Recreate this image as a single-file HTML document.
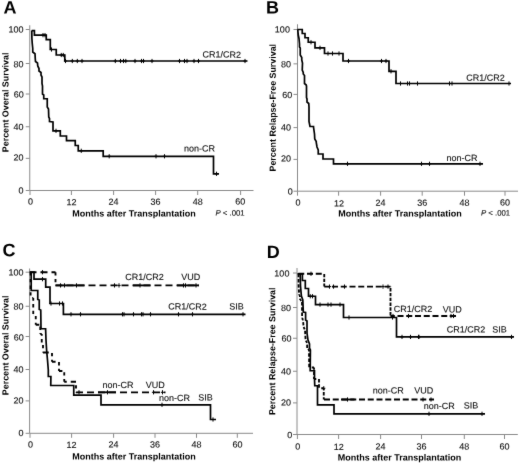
<!DOCTYPE html>
<html><head><meta charset="utf-8"><style>
html,body{margin:0;padding:0;background:#fff;}
svg{display:block;will-change:transform;}
text{font-family:"Liberation Sans",sans-serif;}
.tk{font-size:9px;fill:#111;stroke:#111;stroke-width:0.12px;}
.lb{font-size:9px;fill:#111;stroke:#111;stroke-width:0.12px;}
.tt{font-size:9px;font-weight:bold;fill:#000;}
.pv{font-size:7.8px;stroke-width:0.1px;}
.yt{font-size:8.87px;}
.pl{font-size:18px;font-weight:bold;fill:#000;}
</style></head><body>
<svg width="520" height="463" viewBox="0 0 520 463">
<defs><filter id="b" x="0" y="0" width="1" height="1" color-interpolation-filters="sRGB"><feConvolveMatrix order="3" kernelMatrix="0.01 0.06 0.01 0.06 0.72 0.06 0.01 0.06 0.01" edgeMode="duplicate"/></filter></defs>
<g filter="url(#b)">
<rect width="520" height="463" fill="#fff"/>
<line x1="29.75" y1="25.25" x2="29.75" y2="190.5" stroke="#8a8a8a" stroke-width="1"/>
<line x1="29.75" y1="190.5" x2="253.5" y2="190.5" stroke="#8a8a8a" stroke-width="1"/>
<line x1="25.75" y1="29.5" x2="29.75" y2="29.5" stroke="#8a8a8a" stroke-width="1"/>
<line x1="25.75" y1="63.5" x2="29.75" y2="63.5" stroke="#8a8a8a" stroke-width="1"/>
<line x1="25.75" y1="94" x2="29.75" y2="94" stroke="#8a8a8a" stroke-width="1"/>
<line x1="25.75" y1="126.75" x2="29.75" y2="126.75" stroke="#8a8a8a" stroke-width="1"/>
<line x1="25.75" y1="158.35" x2="29.75" y2="158.35" stroke="#8a8a8a" stroke-width="1"/>
<line x1="25.75" y1="190.5" x2="29.75" y2="190.5" stroke="#8a8a8a" stroke-width="1"/>
<line x1="30" y1="190.5" x2="30" y2="195.0" stroke="#8a8a8a" stroke-width="1"/>
<line x1="71.4" y1="190.5" x2="71.4" y2="195.0" stroke="#8a8a8a" stroke-width="1"/>
<line x1="113.6" y1="190.5" x2="113.6" y2="195.0" stroke="#8a8a8a" stroke-width="1"/>
<line x1="155.6" y1="190.5" x2="155.6" y2="195.0" stroke="#8a8a8a" stroke-width="1"/>
<line x1="197.7" y1="190.5" x2="197.7" y2="195.0" stroke="#8a8a8a" stroke-width="1"/>
<line x1="240.6" y1="190.5" x2="240.6" y2="195.0" stroke="#8a8a8a" stroke-width="1"/>
<text transform="translate(23.5,32.6) matrix(1,0.001,0,1,0,0)" text-anchor="end" class="tk">100</text>
<text transform="translate(23.4,67.3) matrix(1,0.001,0,1,0,0)" text-anchor="end" class="tk">80</text>
<text transform="translate(23.7,97.6) matrix(1,0.001,0,1,0,0)" text-anchor="end" class="tk">60</text>
<text transform="translate(23.4,129.9) matrix(1,0.001,0,1,0,0)" text-anchor="end" class="tk">40</text>
<text transform="translate(23.4,160.6) matrix(1,0.001,0,1,0,0)" text-anchor="end" class="tk">20</text>
<text transform="translate(23.5,193.4) matrix(1,0.001,0,1,0,0)" text-anchor="end" class="tk">0</text>
<text transform="translate(30.6,204.6) matrix(1,0.001,0,1,0,0)" text-anchor="middle" class="tk">0</text>
<text transform="translate(71.5,205.2) matrix(1,0.001,0,1,0,0)" text-anchor="middle" class="tk">12</text>
<text transform="translate(113.6,204.8) matrix(1,0.001,0,1,0,0)" text-anchor="middle" class="tk">24</text>
<text transform="translate(155.6,204.8) matrix(1,0.001,0,1,0,0)" text-anchor="middle" class="tk">36</text>
<text transform="translate(197.7,204.8) matrix(1,0.001,0,1,0,0)" text-anchor="middle" class="tk">48</text>
<text transform="translate(240.3,204.4) matrix(1,0.001,0,1,0,0)" text-anchor="middle" class="tk">60</text>
<path d="M31.75,30.6 L34.4,30.6 L34.4,35.15 L46.25,35.15 L46.25,39.6 L50.3,39.6 L50.3,49.5 L56.25,49.5 L56.25,55 L64.8,55 L64.8,61 L247.5,61" fill="none" stroke="#000" stroke-width="1.7" stroke-linejoin="miter" stroke-miterlimit="2"/>
<path d="M43,33.05V37.25M41.4,35.15H44.6" stroke="#000" stroke-width="1.0" fill="none"/>
<path d="M45,33.05V37.25M43.4,35.15H46.6" stroke="#000" stroke-width="1.0" fill="none"/>
<path d="M51.5,47.4V51.6M49.9,49.5H53.1" stroke="#000" stroke-width="1.0" fill="none"/>
<path d="M61.25,52.9V57.1M59.65,55H62.85" stroke="#000" stroke-width="1.0" fill="none"/>
<path d="M63.25,52.9V57.1M61.65,55H64.85" stroke="#000" stroke-width="1.0" fill="none"/>
<path d="M65.5,58.9V63.1M63.9,61H67.1" stroke="#000" stroke-width="1.0" fill="none"/>
<path d="M72.3,58.9V63.1M70.7,61H73.89999999999999" stroke="#000" stroke-width="1.0" fill="none"/>
<path d="M77.3,58.9V63.1M75.7,61H78.89999999999999" stroke="#000" stroke-width="1.0" fill="none"/>
<path d="M82,58.9V63.1M80.4,61H83.6" stroke="#000" stroke-width="1.0" fill="none"/>
<path d="M115.3,58.9V63.1M113.7,61H116.89999999999999" stroke="#000" stroke-width="1.0" fill="none"/>
<path d="M120.5,58.9V63.1M118.9,61H122.1" stroke="#000" stroke-width="1.0" fill="none"/>
<path d="M123.5,58.9V63.1M121.9,61H125.1" stroke="#000" stroke-width="1.0" fill="none"/>
<path d="M125.8,58.9V63.1M124.2,61H127.39999999999999" stroke="#000" stroke-width="1.0" fill="none"/>
<path d="M135,58.9V63.1M133.4,61H136.6" stroke="#000" stroke-width="1.0" fill="none"/>
<path d="M141.5,58.9V63.1M139.9,61H143.1" stroke="#000" stroke-width="1.0" fill="none"/>
<path d="M143.5,58.9V63.1M141.9,61H145.1" stroke="#000" stroke-width="1.0" fill="none"/>
<path d="M152,58.9V63.1M150.4,61H153.6" stroke="#000" stroke-width="1.0" fill="none"/>
<path d="M179.5,58.9V63.1M177.9,61H181.1" stroke="#000" stroke-width="1.0" fill="none"/>
<path d="M184.5,58.9V63.1M182.9,61H186.1" stroke="#000" stroke-width="1.0" fill="none"/>
<path d="M187,58.9V63.1M185.4,61H188.6" stroke="#000" stroke-width="1.0" fill="none"/>
<path d="M194,58.9V63.1M192.4,61H195.6" stroke="#000" stroke-width="1.0" fill="none"/>
<path d="M198.5,58.9V63.1M196.9,61H200.1" stroke="#000" stroke-width="1.0" fill="none"/>
<path d="M245,58.9V63.1M243.4,61H246.6" stroke="#000" stroke-width="1.0" fill="none"/>
<path d="M31.75,30.6 L31.9,38.5 L32.25,43.5 L32.75,48.5 L32.75,52 L35,53.75 L35.25,58.5 L35.5,61.5 L37.5,63 L37.75,66 L39,68.5 L39,71 L41,72.5 L41,75 L42,77 L42,83.5 L42.5,86 L42.5,94 L43.75,95 L43.75,98.75 L47.25,98.75 L47.25,107 L48.5,109 L48.75,117 L49.5,118.5 L49.5,121.5 L53,122 L53,130.8 L60.3,130.8 L60.3,136 L66.5,136 L66.5,140.6 L75.25,140.6 L75.25,145.5 L78.25,145.5 L78.25,150.8 L103.2,150.8 L103.2,156.3 L213.5,156.3 L213.5,173.8 L219,173.8" fill="none" stroke="#000" stroke-width="1.7" stroke-linejoin="miter" stroke-miterlimit="2"/>
<path d="M56,128.70000000000002V132.9M54.4,130.8H57.6" stroke="#000" stroke-width="1.0" fill="none"/>
<path d="M81.25,148.70000000000002V152.9M79.65,150.8H82.85" stroke="#000" stroke-width="1.0" fill="none"/>
<path d="M109.2,154.20000000000002V158.4M107.60000000000001,156.3H110.8" stroke="#000" stroke-width="1.0" fill="none"/>
<path d="M156,154.20000000000002V158.4M154.4,156.3H157.6" stroke="#000" stroke-width="1.0" fill="none"/>
<path d="M164.5,154.20000000000002V158.4M162.9,156.3H166.1" stroke="#000" stroke-width="1.0" fill="none"/>
<path d="M216.5,171.70000000000002V175.9M214.9,173.8H218.1" stroke="#000" stroke-width="1.0" fill="none"/>
<text transform="translate(3.6,13.6) matrix(1,0.001,0,1,0,0)" class="pl">A</text>
<text transform="translate(72.3,216.5) matrix(1,0.001,0,1,0,0)" class="tt">Months after Transplantation</text>
<text transform="translate(215.4,215.6) matrix(1,0.001,0,1,0,0)" class="tk pv"><tspan font-style="italic">P</tspan> &lt; .001</text>
<text transform="translate(202.5,57.6) matrix(1,0.001,0,1,0,0)" class="lb">CR1/CR2</text>
<text transform="translate(184,151.4) matrix(1,0.001,0,1,0,0)" class="lb">non-CR</text>
<text transform="translate(8.5,102.4) rotate(-90) matrix(1,0.001,0,1,0,0)" text-anchor="middle" class="tt yt">Percent Overal Survival</text>
<line x1="297.5" y1="24.25" x2="297.5" y2="191.2" stroke="#8a8a8a" stroke-width="1"/>
<line x1="297.5" y1="191.2" x2="518" y2="191.2" stroke="#8a8a8a" stroke-width="1"/>
<line x1="293.5" y1="29.5" x2="297.5" y2="29.5" stroke="#8a8a8a" stroke-width="1"/>
<line x1="293.5" y1="63.85" x2="297.5" y2="63.85" stroke="#8a8a8a" stroke-width="1"/>
<line x1="293.5" y1="94.4" x2="297.5" y2="94.4" stroke="#8a8a8a" stroke-width="1"/>
<line x1="293.5" y1="127.6" x2="297.5" y2="127.6" stroke="#8a8a8a" stroke-width="1"/>
<line x1="293.5" y1="159.4" x2="297.5" y2="159.4" stroke="#8a8a8a" stroke-width="1"/>
<line x1="293.5" y1="191.2" x2="297.5" y2="191.2" stroke="#8a8a8a" stroke-width="1"/>
<line x1="297.5" y1="191.2" x2="297.5" y2="195.7" stroke="#8a8a8a" stroke-width="1"/>
<line x1="338.6" y1="191.2" x2="338.6" y2="195.7" stroke="#8a8a8a" stroke-width="1"/>
<line x1="380.6" y1="191.2" x2="380.6" y2="195.7" stroke="#8a8a8a" stroke-width="1"/>
<line x1="422.2" y1="191.2" x2="422.2" y2="195.7" stroke="#8a8a8a" stroke-width="1"/>
<line x1="464.5" y1="191.2" x2="464.5" y2="195.7" stroke="#8a8a8a" stroke-width="1"/>
<line x1="505" y1="191.2" x2="505" y2="195.7" stroke="#8a8a8a" stroke-width="1"/>
<text transform="translate(289.9,32.4) matrix(1,0.001,0,1,0,0)" text-anchor="end" class="tk">100</text>
<text transform="translate(291.1,67.3) matrix(1,0.001,0,1,0,0)" text-anchor="end" class="tk">80</text>
<text transform="translate(292.3,98.1) matrix(1,0.001,0,1,0,0)" text-anchor="end" class="tk">60</text>
<text transform="translate(291.1,130.6) matrix(1,0.001,0,1,0,0)" text-anchor="end" class="tk">40</text>
<text transform="translate(291.1,161.6) matrix(1,0.001,0,1,0,0)" text-anchor="end" class="tk">20</text>
<text transform="translate(292.8,194.4) matrix(1,0.001,0,1,0,0)" text-anchor="end" class="tk">0</text>
<text transform="translate(298.1,205.4) matrix(1,0.001,0,1,0,0)" text-anchor="middle" class="tk">0</text>
<text transform="translate(339,206.4) matrix(1,0.001,0,1,0,0)" text-anchor="middle" class="tk">12</text>
<text transform="translate(380.6,205.8) matrix(1,0.001,0,1,0,0)" text-anchor="middle" class="tk">24</text>
<text transform="translate(422.2,205.8) matrix(1,0.001,0,1,0,0)" text-anchor="middle" class="tk">36</text>
<text transform="translate(464.5,205.8) matrix(1,0.001,0,1,0,0)" text-anchor="middle" class="tk">48</text>
<text transform="translate(505,205.4) matrix(1,0.001,0,1,0,0)" text-anchor="middle" class="tk">60</text>
<path d="M297.5,29.5 L302.25,29.5 L302.25,33.5 L305,33.5 L305,37.75 L308.25,37.75 L308.25,42.25 L315,42.25 L315,47.8 L324.5,47.8 L324.5,53.5 L343,53.5 L343,61 L389,61 L389,71.3 L396,71.3 L396,83.5 L511,83.5" fill="none" stroke="#000" stroke-width="1.7" stroke-linejoin="miter" stroke-miterlimit="2"/>
<path d="M311,40.15V44.35M309.4,42.25H312.6" stroke="#000" stroke-width="1.0" fill="none"/>
<path d="M320,45.699999999999996V49.9M318.4,47.8H321.6" stroke="#000" stroke-width="1.0" fill="none"/>
<path d="M328,51.4V55.6M326.4,53.5H329.6" stroke="#000" stroke-width="1.0" fill="none"/>
<path d="M332.5,51.4V55.6M330.9,53.5H334.1" stroke="#000" stroke-width="1.0" fill="none"/>
<path d="M339,51.4V55.6M337.4,53.5H340.6" stroke="#000" stroke-width="1.0" fill="none"/>
<path d="M348.5,58.9V63.1M346.9,61H350.1" stroke="#000" stroke-width="1.0" fill="none"/>
<path d="M381.5,58.9V63.1M379.9,61H383.1" stroke="#000" stroke-width="1.0" fill="none"/>
<path d="M386,58.9V63.1M384.4,61H387.6" stroke="#000" stroke-width="1.0" fill="none"/>
<path d="M391,69.2V73.39999999999999M389.4,71.3H392.6" stroke="#000" stroke-width="1.0" fill="none"/>
<path d="M400.5,81.4V85.6M398.9,83.5H402.1" stroke="#000" stroke-width="1.0" fill="none"/>
<path d="M407.5,81.4V85.6M405.9,83.5H409.1" stroke="#000" stroke-width="1.0" fill="none"/>
<path d="M409.5,81.4V85.6M407.9,83.5H411.1" stroke="#000" stroke-width="1.0" fill="none"/>
<path d="M417.5,81.4V85.6M415.9,83.5H419.1" stroke="#000" stroke-width="1.0" fill="none"/>
<path d="M449.5,81.4V85.6M447.9,83.5H451.1" stroke="#000" stroke-width="1.0" fill="none"/>
<path d="M452,81.4V85.6M450.4,83.5H453.6" stroke="#000" stroke-width="1.0" fill="none"/>
<path d="M509,81.4V85.6M507.4,83.5H510.6" stroke="#000" stroke-width="1.0" fill="none"/>
<path d="M297.75,29.5 L298.25,35 L299,38.5 L299.5,44 L299.5,47 L300.25,48 L300.25,55 L301.75,57.5 L301.75,60 L302.5,63 L302.25,70 L303.25,72.5 L303.25,74 L304.5,75.5 L304.5,83.5 L306.25,85 L306.5,86 L306.5,97.5 L307,99 L307,102 L308.75,103.5 L309,107 L309,121.5 L310,126.5 L313.5,126.5 L313.5,127 L314.5,134 L314.75,139 L316.25,141.5 L316.25,142.5 L317,147 L318.25,150 L318.25,154 L323,154 L323,159 L333.5,159 L333.5,163.8 L483,163.8" fill="none" stroke="#000" stroke-width="1.7" stroke-linejoin="miter" stroke-miterlimit="2"/>
<path d="M347.5,161.70000000000002V165.9M345.9,163.8H349.1" stroke="#000" stroke-width="1.0" fill="none"/>
<path d="M421.5,161.70000000000002V165.9M419.9,163.8H423.1" stroke="#000" stroke-width="1.0" fill="none"/>
<path d="M429.5,161.70000000000002V165.9M427.9,163.8H431.1" stroke="#000" stroke-width="1.0" fill="none"/>
<path d="M480,161.70000000000002V165.9M478.4,163.8H481.6" stroke="#000" stroke-width="1.0" fill="none"/>
<text transform="translate(266,13.6) matrix(1,0.001,0,1,0,0)" class="pl">B</text>
<text transform="translate(338.3,216.5) matrix(1,0.001,0,1,0,0)" class="tt">Months after Transplantation</text>
<text transform="translate(480.9,215.6) matrix(1,0.001,0,1,0,0)" class="tk pv"><tspan font-style="italic">P</tspan> &lt; .001</text>
<text transform="translate(466.2,80.7) matrix(1,0.001,0,1,0,0)" class="lb">CR1/CR2</text>
<text transform="translate(446.6,161) matrix(1,0.001,0,1,0,0)" class="lb">non-CR</text>
<text transform="translate(275.7,107.75) rotate(-90) matrix(1,0.001,0,1,0,0)" text-anchor="middle" class="tt yt">Percent Relapse-Free Survival</text>
<line x1="29.6" y1="268.5" x2="29.6" y2="433.3" stroke="#8a8a8a" stroke-width="1"/>
<line x1="29.6" y1="433.3" x2="253" y2="433.3" stroke="#8a8a8a" stroke-width="1"/>
<line x1="25.6" y1="272.2" x2="29.6" y2="272.2" stroke="#8a8a8a" stroke-width="1"/>
<line x1="25.6" y1="306.25" x2="29.6" y2="306.25" stroke="#8a8a8a" stroke-width="1"/>
<line x1="25.6" y1="336.5" x2="29.6" y2="336.5" stroke="#8a8a8a" stroke-width="1"/>
<line x1="25.6" y1="369.5" x2="29.6" y2="369.5" stroke="#8a8a8a" stroke-width="1"/>
<line x1="25.6" y1="400.9" x2="29.6" y2="400.9" stroke="#8a8a8a" stroke-width="1"/>
<line x1="25.6" y1="433.3" x2="29.6" y2="433.3" stroke="#8a8a8a" stroke-width="1"/>
<line x1="30" y1="433.3" x2="30" y2="437.8" stroke="#8a8a8a" stroke-width="1"/>
<line x1="71.6" y1="433.3" x2="71.6" y2="437.8" stroke="#8a8a8a" stroke-width="1"/>
<line x1="113.6" y1="433.3" x2="113.6" y2="437.8" stroke="#8a8a8a" stroke-width="1"/>
<line x1="155" y1="433.3" x2="155" y2="437.8" stroke="#8a8a8a" stroke-width="1"/>
<line x1="196.5" y1="433.3" x2="196.5" y2="437.8" stroke="#8a8a8a" stroke-width="1"/>
<line x1="237.3" y1="433.3" x2="237.3" y2="437.8" stroke="#8a8a8a" stroke-width="1"/>
<text transform="translate(23.5,275.4) matrix(1,0.001,0,1,0,0)" text-anchor="end" class="tk">100</text>
<text transform="translate(23.4,309.6) matrix(1,0.001,0,1,0,0)" text-anchor="end" class="tk">80</text>
<text transform="translate(23.7,340.6) matrix(1,0.001,0,1,0,0)" text-anchor="end" class="tk">60</text>
<text transform="translate(23.4,372.6) matrix(1,0.001,0,1,0,0)" text-anchor="end" class="tk">40</text>
<text transform="translate(23.4,403.6) matrix(1,0.001,0,1,0,0)" text-anchor="end" class="tk">20</text>
<text transform="translate(23.5,435.9) matrix(1,0.001,0,1,0,0)" text-anchor="end" class="tk">0</text>
<text transform="translate(30.6,447.4) matrix(1,0.001,0,1,0,0)" text-anchor="middle" class="tk">0</text>
<text transform="translate(71.5,447.9) matrix(1,0.001,0,1,0,0)" text-anchor="middle" class="tk">12</text>
<text transform="translate(113.6,447.6) matrix(1,0.001,0,1,0,0)" text-anchor="middle" class="tk">24</text>
<text transform="translate(155,447.6) matrix(1,0.001,0,1,0,0)" text-anchor="middle" class="tk">36</text>
<text transform="translate(196.5,447.6) matrix(1,0.001,0,1,0,0)" text-anchor="middle" class="tk">48</text>
<text transform="translate(237.4,447.4) matrix(1,0.001,0,1,0,0)" text-anchor="middle" class="tk">60</text>
<path d="M29.75,272.20L36.50,272.20M40.50,272.20L47.50,272.20M51.50,272.20L55.50,272.20M55.50,272.30L55.50,275.60M55.50,279.00L55.50,282.30M55.50,285.40L62.50,285.40M66.50,285.40L73.50,285.40M77.50,285.40L84.50,285.40M88.50,285.40L95.50,285.40M99.50,285.40L106.50,285.40M110.50,285.40L117.50,285.40M121.50,285.40L128.50,285.40M132.50,285.40L139.50,285.40M143.50,285.40L150.50,285.40M154.50,285.40L161.50,285.40M165.50,285.40L172.50,285.40M176.50,285.40L183.50,285.40M187.50,285.40L194.50,285.40M198.50,285.40L199.00,285.40" fill="none" stroke="#000" stroke-width="1.85" stroke-linecap="butt"/>
<path d="M55.5,285.4H84.5" stroke="#000" stroke-width="1.85" fill="none"/><path d="M133,285.4H150.5" stroke="#000" stroke-width="1.85" fill="none"/><path d="M177,285.4H199" stroke="#000" stroke-width="1.85" fill="none"/>
<path d="M42.5,270.09999999999997V274.3M40.9,272.2H44.1" stroke="#000" stroke-width="1.0" fill="none"/>
<path d="M60.5,283.29999999999995V287.5M58.9,285.4H62.1" stroke="#000" stroke-width="1.0" fill="none"/>
<path d="M64.5,283.29999999999995V287.5M62.9,285.4H66.1" stroke="#000" stroke-width="1.0" fill="none"/>
<path d="M76.5,283.29999999999995V287.5M74.9,285.4H78.1" stroke="#000" stroke-width="1.0" fill="none"/>
<path d="M114.5,283.29999999999995V287.5M112.9,285.4H116.1" stroke="#000" stroke-width="1.0" fill="none"/>
<path d="M119,283.29999999999995V287.5M117.4,285.4H120.6" stroke="#000" stroke-width="1.0" fill="none"/>
<path d="M140,283.29999999999995V287.5M138.4,285.4H141.6" stroke="#000" stroke-width="1.0" fill="none"/>
<path d="M183.5,283.29999999999995V287.5M181.9,285.4H185.1" stroke="#000" stroke-width="1.0" fill="none"/>
<path d="M185.5,283.29999999999995V287.5M183.9,285.4H187.1" stroke="#000" stroke-width="1.0" fill="none"/>
<path d="M196,283.29999999999995V287.5M194.4,285.4H197.6" stroke="#000" stroke-width="1.0" fill="none"/>
<path d="M29.75,272.2 L34,272.2 L34,279.2 L45.7,279.2 L45.7,287.2 L50,287.2 L50,303.5 L63.4,303.5 L63.4,314.3 L245.5,314.3" fill="none" stroke="#000" stroke-width="1.7" stroke-linejoin="miter" stroke-miterlimit="2"/>
<path d="M42.5,277.09999999999997V281.3M40.9,279.2H44.1" stroke="#000" stroke-width="1.0" fill="none"/>
<path d="M51,301.4V305.6M49.4,303.5H52.6" stroke="#000" stroke-width="1.0" fill="none"/>
<path d="M59.5,301.4V305.6M57.9,303.5H61.1" stroke="#000" stroke-width="1.0" fill="none"/>
<path d="M62.5,301.4V305.6M60.9,303.5H64.1" stroke="#000" stroke-width="1.0" fill="none"/>
<path d="M71,312.2V316.40000000000003M69.4,314.3H72.6" stroke="#000" stroke-width="1.0" fill="none"/>
<path d="M80.5,312.2V316.40000000000003M78.9,314.3H82.1" stroke="#000" stroke-width="1.0" fill="none"/>
<path d="M122.5,312.2V316.40000000000003M120.9,314.3H124.1" stroke="#000" stroke-width="1.0" fill="none"/>
<path d="M124,312.2V316.40000000000003M122.4,314.3H125.6" stroke="#000" stroke-width="1.0" fill="none"/>
<path d="M133.5,312.2V316.40000000000003M131.9,314.3H135.1" stroke="#000" stroke-width="1.0" fill="none"/>
<path d="M141.5,312.2V316.40000000000003M139.9,314.3H143.1" stroke="#000" stroke-width="1.0" fill="none"/>
<path d="M143,312.2V316.40000000000003M141.4,314.3H144.6" stroke="#000" stroke-width="1.0" fill="none"/>
<path d="M150.5,312.2V316.40000000000003M148.9,314.3H152.1" stroke="#000" stroke-width="1.0" fill="none"/>
<path d="M178.5,312.2V316.40000000000003M176.9,314.3H180.1" stroke="#000" stroke-width="1.0" fill="none"/>
<path d="M192.5,312.2V316.40000000000003M190.9,314.3H194.1" stroke="#000" stroke-width="1.0" fill="none"/>
<path d="M243,312.2V316.40000000000003M241.4,314.3H244.6" stroke="#000" stroke-width="1.0" fill="none"/>
<path d="M30.60,272.20L30.60,275.50M30.60,278.90L30.60,282.20M30.60,285.60L30.60,288.90M30.60,292.30L30.60,295.60M32.24,298.00L33.25,298.00M33.25,298.00L33.25,300.69M33.25,304.09L33.25,307.39M33.25,310.79L33.25,314.09M33.25,315.00L33.33,315.00M35.75,315.96L35.75,319.26M35.75,322.66L35.75,324.75M35.75,324.75L39.32,324.75M40.25,326.62L40.25,329.92M40.25,333.32L40.25,334.00M40.25,334.00L41.75,334.00M41.75,334.00L41.75,335.71M41.75,339.11L41.75,342.41M43.00,345.05L43.00,348.35M43.00,351.75L43.00,352.50M43.00,352.50L48.76,352.50M52.00,352.97L52.00,356.27M52.00,359.67L52.00,361.75M52.00,361.75L55.58,361.75M59.00,362.10L59.00,365.40M59.00,368.80L59.00,371.00M59.00,371.00L62.39,371.00M64.25,372.30L64.25,375.60M64.25,379.00L64.25,381.75M64.25,381.75L66.74,381.75M70.74,381.75L76.00,381.75M76.00,381.75L76.00,381.85M76.00,385.25L76.00,388.55M76.00,391.95L76.00,392.30M76.00,392.30L83.00,392.30M87.00,392.30L94.00,392.30M98.00,392.30L105.00,392.30M109.00,392.30L116.00,392.30M120.00,392.30L127.00,392.30M131.00,392.30L138.00,392.30M142.00,392.30L149.00,392.30M153.00,392.30L160.00,392.30M164.00,392.30L165.50,392.30" fill="none" stroke="#000" stroke-width="1.85" stroke-linecap="butt"/>
<path d="M98,392.3H116" stroke="#000" stroke-width="1.85" fill="none"/>
<path d="M79,390.2V394.40000000000003M77.4,392.3H80.6" stroke="#000" stroke-width="1.0" fill="none"/>
<path d="M107.5,390.2V394.40000000000003M105.9,392.3H109.1" stroke="#000" stroke-width="1.0" fill="none"/>
<path d="M153.5,390.2V394.40000000000003M151.9,392.3H155.1" stroke="#000" stroke-width="1.0" fill="none"/>
<path d="M162.5,390.2V394.40000000000003M160.9,392.3H164.1" stroke="#000" stroke-width="1.0" fill="none"/>
<path d="M31.2,272.2 L31.2,290.5 L37.75,290.5 L37.75,299.5 L39.25,300 L39.25,309.5 L40.75,310 L41,328.75 L45.6,328.75 L46,340 L46.6,350 L47.5,360 L48.3,370 L48.3,376.5 L50.9,376.5 L50.75,385.5 L73.75,385.5 L73.75,395.2 L101,395.2 L101,404.8 L210.5,404.8 L210.5,419.5 L216,419.5" fill="none" stroke="#000" stroke-width="1.7" stroke-linejoin="miter" stroke-miterlimit="2"/>
<path d="M162,402.7V406.90000000000003M160.4,404.8H163.6" stroke="#000" stroke-width="1.0" fill="none"/>
<path d="M213,417.4V421.6M211.4,419.5H214.6" stroke="#000" stroke-width="1.0" fill="none"/>
<text transform="translate(2.6,256.2) matrix(1,0.001,0,1,0,0)" class="pl">C</text>
<text transform="translate(72.3,459.5) matrix(1,0.001,0,1,0,0)" class="tt">Months after Transplantation</text>
<text transform="translate(125.2,280) matrix(1,0.001,0,1,0,0)" class="lb">CR1/CR2</text>
<text transform="translate(181.3,280) matrix(1,0.001,0,1,0,0)" class="lb">VUD</text>
<text transform="translate(168.2,309.6) matrix(1,0.001,0,1,0,0)" class="lb">CR1/CR2</text>
<text transform="translate(229.2,309.6) matrix(1,0.001,0,1,0,0)" class="lb">SIB</text>
<text transform="translate(102.6,388) matrix(1,0.001,0,1,0,0)" class="lb">non-CR</text>
<text transform="translate(145.8,388) matrix(1,0.001,0,1,0,0)" class="lb">VUD</text>
<text transform="translate(159.1,401) matrix(1,0.001,0,1,0,0)" class="lb">non-CR</text>
<text transform="translate(198.2,400.6) matrix(1,0.001,0,1,0,0)" class="lb">SIB</text>
<text transform="translate(8.5,345.4) rotate(-90) matrix(1,0.001,0,1,0,0)" text-anchor="middle" class="tt yt">Percent Overal Survival</text>
<line x1="297" y1="268" x2="297" y2="434.5" stroke="#8a8a8a" stroke-width="1"/>
<line x1="297" y1="434.5" x2="517.8" y2="434.5" stroke="#8a8a8a" stroke-width="1"/>
<line x1="293" y1="273" x2="297" y2="273" stroke="#8a8a8a" stroke-width="1"/>
<line x1="293" y1="307.5" x2="297" y2="307.5" stroke="#8a8a8a" stroke-width="1"/>
<line x1="293" y1="338.25" x2="297" y2="338.25" stroke="#8a8a8a" stroke-width="1"/>
<line x1="293" y1="371.25" x2="297" y2="371.25" stroke="#8a8a8a" stroke-width="1"/>
<line x1="293" y1="402.9" x2="297" y2="402.9" stroke="#8a8a8a" stroke-width="1"/>
<line x1="293" y1="434.5" x2="297" y2="434.5" stroke="#8a8a8a" stroke-width="1"/>
<line x1="297.4" y1="434.5" x2="297.4" y2="439.0" stroke="#8a8a8a" stroke-width="1"/>
<line x1="338.6" y1="434.5" x2="338.6" y2="439.0" stroke="#8a8a8a" stroke-width="1"/>
<line x1="380.6" y1="434.5" x2="380.6" y2="439.0" stroke="#8a8a8a" stroke-width="1"/>
<line x1="421.5" y1="434.5" x2="421.5" y2="439.0" stroke="#8a8a8a" stroke-width="1"/>
<line x1="464.3" y1="434.5" x2="464.3" y2="439.0" stroke="#8a8a8a" stroke-width="1"/>
<line x1="504.5" y1="434.5" x2="504.5" y2="439.0" stroke="#8a8a8a" stroke-width="1"/>
<text transform="translate(289.4,276.4) matrix(1,0.001,0,1,0,0)" text-anchor="end" class="tk">100</text>
<text transform="translate(291.1,310.9) matrix(1,0.001,0,1,0,0)" text-anchor="end" class="tk">80</text>
<text transform="translate(291.5,341.6) matrix(1,0.001,0,1,0,0)" text-anchor="end" class="tk">60</text>
<text transform="translate(291.1,374.6) matrix(1,0.001,0,1,0,0)" text-anchor="end" class="tk">40</text>
<text transform="translate(291.1,405.6) matrix(1,0.001,0,1,0,0)" text-anchor="end" class="tk">20</text>
<text transform="translate(292.3,437.9) matrix(1,0.001,0,1,0,0)" text-anchor="end" class="tk">0</text>
<text transform="translate(297.8,449.4) matrix(1,0.001,0,1,0,0)" text-anchor="middle" class="tk">0</text>
<text transform="translate(338.8,449.9) matrix(1,0.001,0,1,0,0)" text-anchor="middle" class="tk">12</text>
<text transform="translate(380.6,449.6) matrix(1,0.001,0,1,0,0)" text-anchor="middle" class="tk">24</text>
<text transform="translate(421.5,449.6) matrix(1,0.001,0,1,0,0)" text-anchor="middle" class="tk">36</text>
<text transform="translate(464.3,449.6) matrix(1,0.001,0,1,0,0)" text-anchor="middle" class="tk">48</text>
<text transform="translate(504.5,449.4) matrix(1,0.001,0,1,0,0)" text-anchor="middle" class="tk">60</text>
<path d="M298.25,273.75L304.25,273.75M307.00,273.75L313.00,273.75M315.75,273.75L321.75,273.75M324.25,273.89L324.25,277.29M324.25,278.69L324.25,282.09M324.25,283.49L324.25,286.60M324.25,286.60L329.25,286.60M332.00,286.60L338.00,286.60M340.75,286.60L346.75,286.60M349.50,286.60L355.50,286.60M358.25,286.60L364.25,286.60M367.00,286.60L373.00,286.60M375.75,286.60L381.75,286.60M384.50,286.60L390.50,286.60M390.50,286.60L390.50,286.71M390.50,288.11L390.50,291.51M390.50,292.91L390.50,296.31M390.50,297.71L390.50,301.11M390.50,302.51L390.50,305.91M390.50,307.31L390.50,310.71M390.50,312.11L390.50,315.51M390.50,316.00L394.75,316.00M397.50,316.00L403.50,316.00M406.25,316.00L412.25,316.00M415.00,316.00L421.00,316.00M423.75,316.00L429.75,316.00M432.50,316.00L438.50,316.00M441.25,316.00L447.25,316.00M450.00,316.00L456.00,316.00" fill="none" stroke="#000" stroke-width="1.85" stroke-linecap="butt"/>
<path d="M311,271.65V275.85M309.4,273.75H312.6" stroke="#000" stroke-width="1.0" fill="none"/>
<path d="M329.5,284.5V288.70000000000005M327.9,286.6H331.1" stroke="#000" stroke-width="1.0" fill="none"/>
<path d="M333.5,284.5V288.70000000000005M331.9,286.6H335.1" stroke="#000" stroke-width="1.0" fill="none"/>
<path d="M344.5,284.5V288.70000000000005M342.9,286.6H346.1" stroke="#000" stroke-width="1.0" fill="none"/>
<path d="M383,284.5V288.70000000000005M381.4,286.6H384.6" stroke="#000" stroke-width="1.0" fill="none"/>
<path d="M388,284.5V288.70000000000005M386.4,286.6H389.6" stroke="#000" stroke-width="1.0" fill="none"/>
<path d="M393,313.9V318.1M391.4,316H394.6" stroke="#000" stroke-width="1.0" fill="none"/>
<path d="M408.5,313.9V318.1M406.9,316H410.1" stroke="#000" stroke-width="1.0" fill="none"/>
<path d="M451,313.9V318.1M449.4,316H452.6" stroke="#000" stroke-width="1.0" fill="none"/>
<path d="M453.5,313.9V318.1M451.9,316H455.1" stroke="#000" stroke-width="1.0" fill="none"/>
<path d="M297.5,273.75 L302.4,273.75 L302.4,280.5 L305.3,280.5 L305.3,288.5 L308.5,288.5 L308.5,296.25 L315.5,296.25 L315.5,304.6 L343.5,304.6 L343.5,317.5 L396.5,317.5 L396.5,336.9 L514,336.9" fill="none" stroke="#000" stroke-width="1.7" stroke-linejoin="miter" stroke-miterlimit="2"/>
<path d="M310.25,294.15V298.35M308.65,296.25H311.85" stroke="#000" stroke-width="1.0" fill="none"/>
<path d="M312.5,294.15V298.35M310.9,296.25H314.1" stroke="#000" stroke-width="1.0" fill="none"/>
<path d="M320,302.5V306.70000000000005M318.4,304.6H321.6" stroke="#000" stroke-width="1.0" fill="none"/>
<path d="M328,302.5V306.70000000000005M326.4,304.6H329.6" stroke="#000" stroke-width="1.0" fill="none"/>
<path d="M331,302.5V306.70000000000005M329.4,304.6H332.6" stroke="#000" stroke-width="1.0" fill="none"/>
<path d="M340,302.5V306.70000000000005M338.4,304.6H341.6" stroke="#000" stroke-width="1.0" fill="none"/>
<path d="M349,315.4V319.6M347.4,317.5H350.6" stroke="#000" stroke-width="1.0" fill="none"/>
<path d="M392.5,315.4V319.6M390.9,317.5H394.1" stroke="#000" stroke-width="1.0" fill="none"/>
<path d="M402,334.79999999999995V339.0M400.4,336.9H403.6" stroke="#000" stroke-width="1.0" fill="none"/>
<path d="M410.5,334.79999999999995V339.0M408.9,336.9H412.1" stroke="#000" stroke-width="1.0" fill="none"/>
<path d="M418.5,334.79999999999995V339.0M416.9,336.9H420.1" stroke="#000" stroke-width="1.0" fill="none"/>
<path d="M419,334.79999999999995V339.0M417.4,336.9H420.6" stroke="#000" stroke-width="1.0" fill="none"/>
<path d="M511.5,334.79999999999995V339.0M509.9,336.9H513.1" stroke="#000" stroke-width="1.0" fill="none"/>
<path d="M298.50,273.75L298.53,277.22M298.54,279.01L298.57,282.48M298.59,284.26L298.60,286.00M298.60,286.00L298.71,287.64M298.82,289.33L299.04,292.61M299.15,294.30L299.20,295.00M299.20,295.00L299.90,296.00M299.90,296.00L299.97,296.98M300.10,298.65L300.20,300.00M300.20,300.00L301.52,300.73M302.01,302.04L302.03,305.52M302.04,307.31L302.06,310.79M302.07,312.58L302.09,316.06M302.10,317.85L302.10,318.00M302.10,318.00L303.00,320.00M303.00,320.00L303.04,320.41M303.18,322.07L303.45,325.30M303.60,326.95L303.60,327.00M303.60,327.00L304.70,329.35M305.05,330.80L305.25,334.10M305.35,335.80L305.55,339.10M305.88,340.57L307.05,342.90M307.13,344.62L307.20,348.00M307.20,348.00L307.22,348.03M308.08,348.97L309.00,350.00M309.00,350.00L309.02,351.53M309.04,353.31L309.08,356.77M309.10,358.55L309.14,362.01M309.16,363.79L309.20,367.25M311.76,367.50L314.00,367.50M314.00,367.50L314.00,369.64M314.00,371.44L314.00,374.94M314.00,376.74L314.00,379.00M314.00,379.00L316.27,379.00M319.00,379.01L319.00,382.51M319.00,384.31L319.00,387.81M321.25,388.25L323.75,388.25M323.75,388.25L323.75,390.24M323.75,392.04L323.75,395.54M323.75,397.34L323.75,399.50M324.00,399.50L330.00,399.50M332.75,399.50L338.75,399.50M341.50,399.50L347.50,399.50M350.25,399.50L356.25,399.50M359.00,399.50L365.00,399.50M367.75,399.50L373.75,399.50M376.50,399.50L382.50,399.50M385.25,399.50L391.25,399.50M394.00,399.50L400.00,399.50M402.75,399.50L408.75,399.50M411.50,399.50L417.50,399.50M420.25,399.50L426.25,399.50M429.00,399.50L434.00,399.50" fill="none" stroke="#000" stroke-width="1.85" stroke-linecap="butt"/>
<path d="M341,399.5H354.5" stroke="#000" stroke-width="1.85" fill="none"/>
<path d="M323.75,386.15V390.35M322.15,388.25H325.35" stroke="#000" stroke-width="1.0" fill="none"/>
<path d="M347.5,397.4V401.6M345.9,399.5H349.1" stroke="#000" stroke-width="1.0" fill="none"/>
<path d="M423,397.4V401.6M421.4,399.5H424.6" stroke="#000" stroke-width="1.0" fill="none"/>
<path d="M431,397.4V401.6M429.4,399.5H432.6" stroke="#000" stroke-width="1.0" fill="none"/>
<path d="M300.2,273.75 L300.5,286 L301.4,296 L302.8,300 L303.3,312 L305.6,312.5 L305.6,320 L307,321 L307,333 L308,340 L309.5,344 L309.5,348 L310.4,350 L310.2,370.75 L314.5,370.75 L314.5,379 L314.75,385.75 L317.5,385.75 L317.5,404.8 L334,404.8 L334,413.8 L485,413.8" fill="none" stroke="#000" stroke-width="1.7" stroke-linejoin="miter" stroke-miterlimit="2"/>
<path d="M429,411.7V415.90000000000003M427.4,413.8H430.6" stroke="#000" stroke-width="1.0" fill="none"/>
<path d="M482,411.7V415.90000000000003M480.4,413.8H483.6" stroke="#000" stroke-width="1.0" fill="none"/>
<text transform="translate(266.7,258) matrix(1,0.001,0,1,0,0)" class="pl">D</text>
<text transform="translate(337.8,460.5) matrix(1,0.001,0,1,0,0)" class="tt">Months after Transplantation</text>
<text transform="translate(393.7,312) matrix(1,0.001,0,1,0,0)" class="lb">CR1/CR2</text>
<text transform="translate(442.8,312.4) matrix(1,0.001,0,1,0,0)" class="lb">VUD</text>
<text transform="translate(446.7,332.5) matrix(1,0.001,0,1,0,0)" class="lb">CR1/CR2</text>
<text transform="translate(492.3,332.5) matrix(1,0.001,0,1,0,0)" class="lb">SIB</text>
<text transform="translate(372.7,393.5) matrix(1,0.001,0,1,0,0)" class="lb">non-CR</text>
<text transform="translate(414.3,393.5) matrix(1,0.001,0,1,0,0)" class="lb">VUD</text>
<text transform="translate(423.7,409) matrix(1,0.001,0,1,0,0)" class="lb">non-CR</text>
<text transform="translate(463.8,408.5) matrix(1,0.001,0,1,0,0)" class="lb">SIB</text>
<text transform="translate(275.3,351.3) rotate(-90) matrix(1,0.001,0,1,0,0)" text-anchor="middle" class="tt yt">Percent Relapse-Free Survival</text>
</g>
</svg></body></html>
